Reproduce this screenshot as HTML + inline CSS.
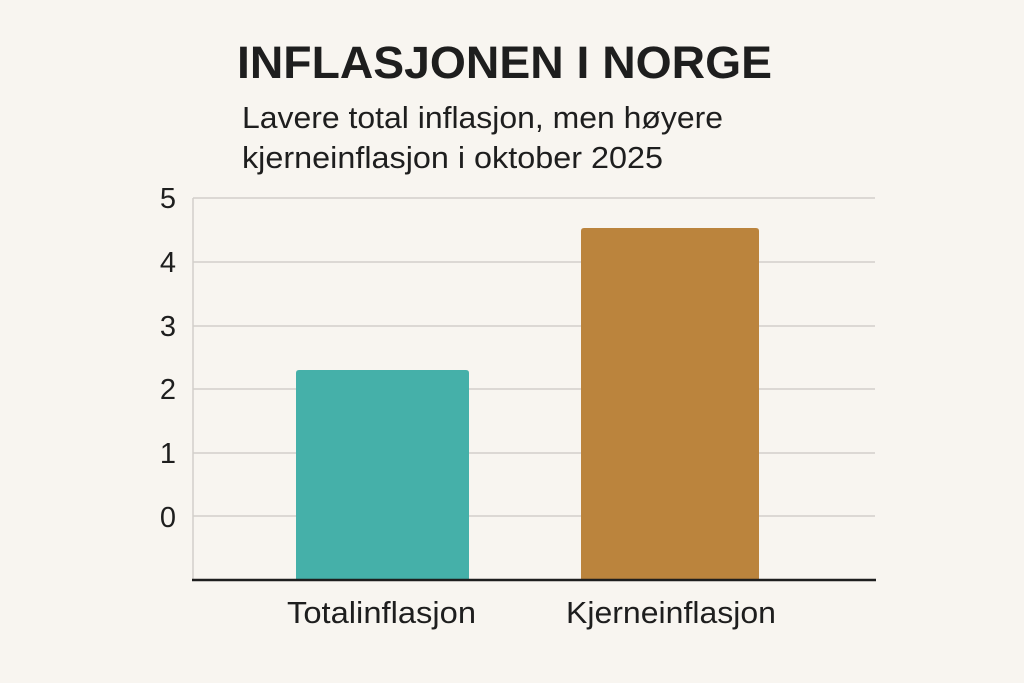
<!DOCTYPE html>
<html><head><meta charset="utf-8"><style>
html,body{margin:0;padding:0;background:#f8f5f0;}
</style></head><body>
<svg width="1024" height="683" xmlns="http://www.w3.org/2000/svg" style="display:block">
<rect width="1024" height="683" fill="#f8f5f0"/>
<text x="237" y="78" textLength="535" lengthAdjust="spacingAndGlyphs" font-family="Liberation Sans, sans-serif" font-weight="bold" font-size="45" fill="#1e1e1e">INFLASJONEN I NORGE</text>
<text x="242" y="128" textLength="481" lengthAdjust="spacingAndGlyphs" font-family="Liberation Sans, sans-serif" font-size="31" fill="#1e1e1e">Lavere total inflasjon, men høyere</text>
<text x="242" y="168" textLength="421" lengthAdjust="spacingAndGlyphs" font-family="Liberation Sans, sans-serif" font-size="31" fill="#1e1e1e">kjerneinflasjon i oktober 2025</text>
<g stroke="#d2cfca" stroke-width="1.5">
<line x1="193" y1="198" x2="875" y2="198"/>
<line x1="193" y1="262" x2="875" y2="262"/>
<line x1="193" y1="326" x2="875" y2="326"/>
<line x1="193" y1="389" x2="875" y2="389"/>
<line x1="193" y1="453" x2="875" y2="453"/>
<line x1="193" y1="516" x2="875" y2="516"/>
<line x1="193" y1="198" x2="193" y2="580"/>
</g>
<g font-family="Liberation Sans, sans-serif" font-size="29" fill="#1e1e1e" text-anchor="middle">
<text x="168" y="208">5</text>
<text x="168" y="272">4</text>
<text x="168" y="336">3</text>
<text x="168" y="399">2</text>
<text x="168" y="463">1</text>
<text x="168" y="527">0</text>
</g>
<path d="M296,580 V373 Q296,370 299,370 H466 Q469,370 469,373 V580 Z" fill="#45b0a9"/>
<path d="M581,580 V231 Q581,228 584,228 H756 Q759,228 759,231 V580 Z" fill="#bb843d"/>
<line x1="192" y1="580" x2="876" y2="580" stroke="#1e1e1e" stroke-width="2.5"/>
<g font-family="Liberation Sans, sans-serif" font-size="31" fill="#1e1e1e">
<text x="287" y="623" textLength="189" lengthAdjust="spacingAndGlyphs">Totalinflasjon</text>
<text x="566" y="623" textLength="210" lengthAdjust="spacingAndGlyphs">Kjerneinflasjon</text>
</g>
</svg>
</body></html>
